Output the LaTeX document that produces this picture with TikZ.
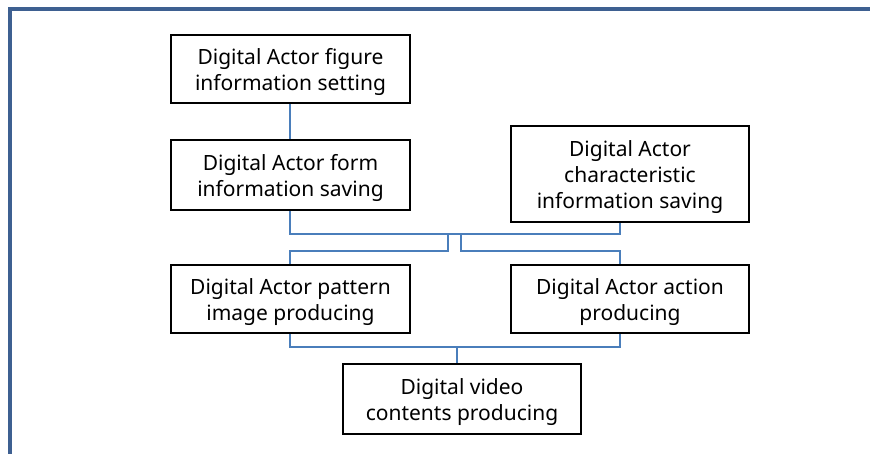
\documentclass[tikz,border=0pt]{standalone}
\usepackage{fontspec}
\setmainfont{Noto Sans}
\newcommand\firstlift{\rule{0pt}{22pt}}
\begin{document}
\begin{tikzpicture}[x=1pt,y=-1pt,
  box/.style={draw=black,line width=1.8pt,fill=white,align=center,inner sep=0pt,
    font=\fontsize{21}{26}\selectfont},
  link/.style={draw={rgb,255:red,74;green,126;blue,187},line width=1.6pt},
  frame/.style={draw={rgb,255:red,62;green,96;blue,145},line width=4pt}]
\useasboundingbox (0,0) rectangle (870,454);
\fill[white] (0,0) rectangle (870,454);
\draw[frame] (870,9) -- (10,9) -- (10,454);

\node[box,minimum width=239pt,minimum height=68pt] (b1) at (290.5,69) {\firstlift Digital Actor figure\\information setting};
\node[box,minimum width=239pt,minimum height=70pt] (b2) at (290.5,175) {\firstlift Digital Actor form\\information saving};
\node[box,minimum width=238pt,minimum height=96pt] (b3) at (630,174) {\firstlift Digital Actor\\characteristic\\information saving};
\node[box,minimum width=239pt,minimum height=68pt] (b4) at (290.5,299) {\firstlift Digital Actor pattern\\image producing};
\node[box,minimum width=238pt,minimum height=68pt] (b5) at (630,299) {\firstlift Digital Actor action\\producing};
\node[box,minimum width=238pt,minimum height=70pt] (b6) at (462,399) {\firstlift Digital video\\contents producing};

\coordinate (b3s) at ([xshift=-10pt]b3.south);
\coordinate (b5n) at ([xshift=-10pt]b5.north);
\coordinate (b5s) at ([xshift=-10pt]b5.south);
\coordinate (b6n) at ([xshift=-5pt]b6.north);
\coordinate (b2s) at ([xshift=-0.5pt]b2.south);
\coordinate (b4n) at ([xshift=-0.5pt]b4.north);
\coordinate (b4s) at ([xshift=-0.5pt]b4.south);
\coordinate (busA) at (448,234);
\coordinate (busB) at (461,234);
\coordinate (busC) at (457,347);

\draw[link] ([xshift=-0.5pt]b1.south) -- ([xshift=-0.5pt]b2.north);
\draw[link] (b2s) |- (b3s |- busA) -- (b3s);
\draw[link] (busA) -- ++(0,17) -| (b4n);
\draw[link] (busB) -- ++(0,17) -| (b5n);
\draw[link] (b4s) |- (busC) -| (b5s);
\draw[link] (busC) -- (b6n);
\end{tikzpicture}
\end{document}
